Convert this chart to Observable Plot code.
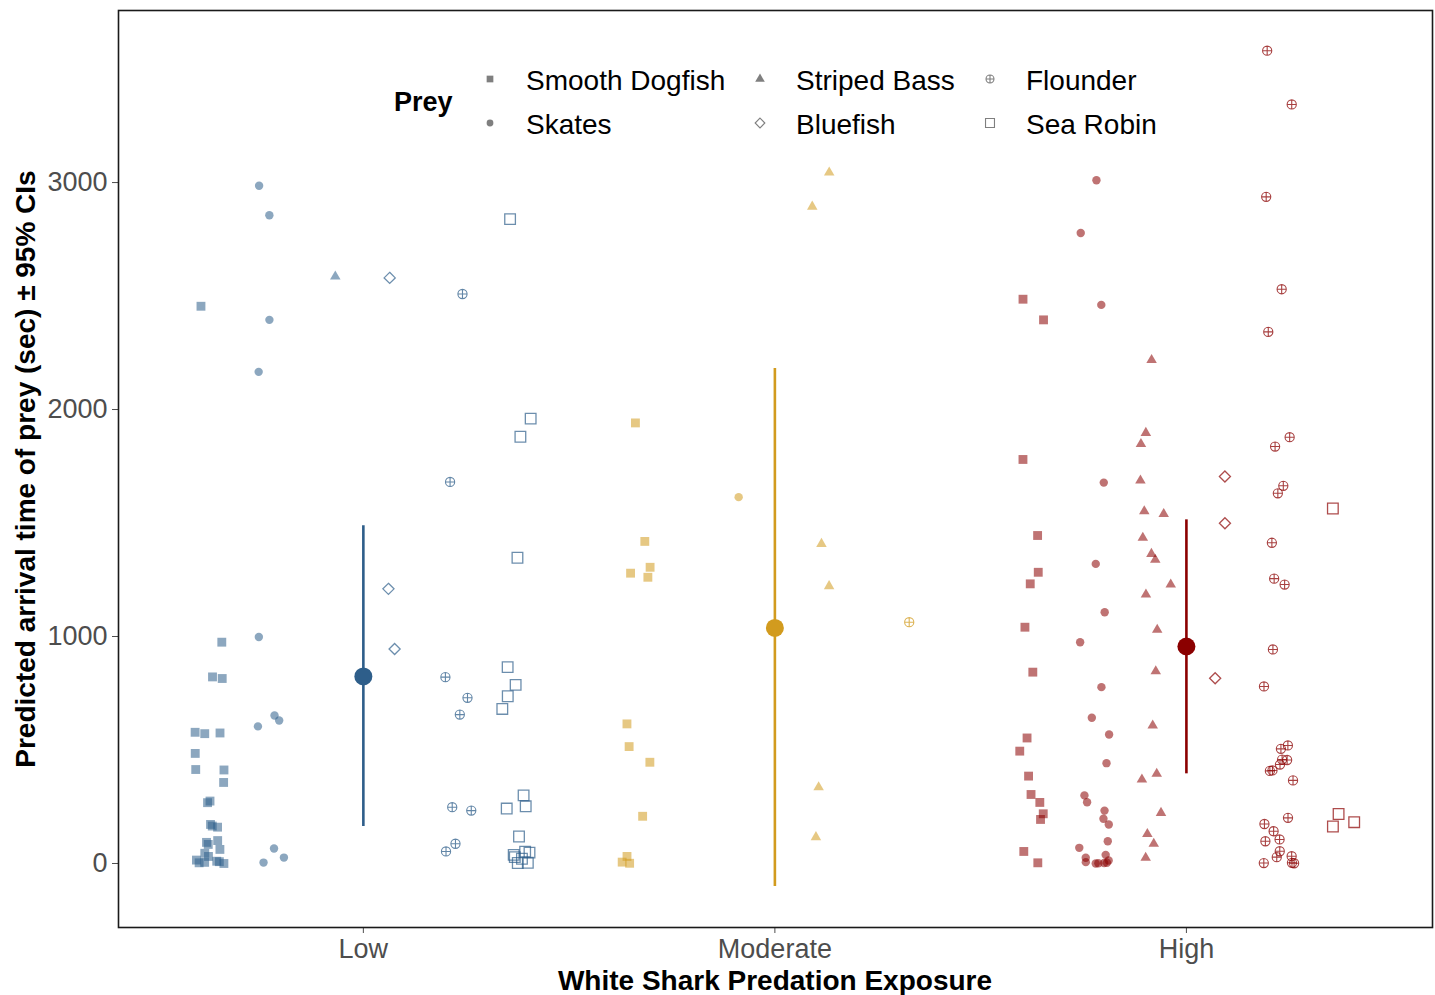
<!DOCTYPE html>
<html>
<head>
<meta charset="utf-8">
<script src="https://cdn.jsdelivr.net/npm/d3@7"></script>
<script src="https://cdn.jsdelivr.net/npm/@observablehq/plot@0.6"></script>
<style>
  body { margin: 0; background: #fff; }
  #chart svg { display: block; }
</style>
</head>
<body>
<div id="chart"></div>
<script>
// ---------- data ----------
const exposures = ["Low", "Moderate", "High"];
const preyTypes = ["Smooth Dogfish", "Skates", "Striped Bass", "Bluefish", "Flounder", "Sea Robin"];

// Low exposure: predicted arrival times (sec)
const lowDogfish  = [2455, 975, 822, 815, 578, 575, 572, 485, 414, 412, 357, 275, 268, 172, 165, 160, 101, 93, 84, 62, 45, 31, 15, 10, 8, 5, 3, 0];
const lowSkates   = [2986, 2856, 2395, 2166, 998, 652, 630, 604, 66, 26, 4];
const lowBass     = [2586];
const lowBluefish = [2580, 1210, 945];
const lowFlounder = [2509, 1681, 821, 730, 656, 248, 233, 87, 53];
const lowRobin    = [2839, 1960, 1880, 1347, 865, 787, 737, 681, 300, 252, 242, 119, 52, 48, 38, 28, 21, 3, 2];

// Moderate exposure
const modDogfish  = [1941, 1419, 1305, 1279, 1261, 615, 515, 446, 208, 31, 6, 1];
const modSkates   = [1614];
const modBass     = [3044, 2894, 1408, 1222, 336, 116];
const modFlounder = [1063];

// High exposure
const highDogfish  = [2486, 2395, 1780, 1445, 1283, 1232, 1041, 843, 553, 495, 385, 304, 269, 219, 194, 53, 3];
const highSkates   = [3010, 2778, 2461, 1678, 1320, 1107, 975, 777, 642, 568, 442, 300, 270, 233, 197, 172, 98, 69, 38, 25, 13, 6, 3, 2, 1, 0];
const highBass     = [2218, 1897, 1848, 1687, 1552, 1540, 1435, 1364, 1338, 1229, 1185, 1030, 847, 608, 395, 370, 223, 130, 87, 25];
const highBluefish = [1705, 1499, 816];
const highFlounder = [3581, 3344, 2937, 2530, 2342, 1878, 1837, 1664, 1631, 1413, 1255, 1229, 943, 780, 520, 505, 458, 456, 436, 410, 408, 366, 201, 174, 142, 106, 98, 54, 32, 28, 3, 2, 1];
const highRobin    = [1564, 218, 182, 163];

// Model predictions (mean ± 95% CI)
const meanTime = [824, 1038, 956];
const ciLower  = [163, -101, 395];
const ciUpper  = [1488, 2181, 1514];

const exposureColors = ["#2E5E8A", "#D29B1E", "#8B0000"];
const yTicks = [0, 1000, 2000, 3000];

// ---------- build tables ----------
const byExposure = [
  [lowDogfish, lowSkates, lowBass, lowBluefish, lowFlounder, lowRobin],
  [modDogfish, modSkates, modBass, [], modFlounder, []],
  [highDogfish, highSkates, highBass, highBluefish, highFlounder, highRobin]
];

const rand = d3.randomLcg(7);
const rows = [];
byExposure.forEach((series, i) => {
  const present = preyTypes.map((p, k) => [p, series[k]]).filter(([, v]) => v.length);
  const n = present.length, w = 0.9 / n;
  present.forEach(([prey, vals], k) => {
    const off = (k - (n - 1) / 2) * w;
    vals.forEach(v => rows.push({
      exposure: exposures[i], prey, time: v,
      xpos: i + off + (rand() - 0.5) * 0.075
    }));
  });
});
const summary = exposures.map((e, i) => ({exposure: e, xi: i, mean: meanTime[i], lo: ciLower[i], hi: ciUpper[i]}));

// custom "circle-plus" symbol (ggplot shape 10)
const circlePlus = {
  draw(ctx, size) {
    const r = Math.sqrt(size / Math.PI);
    ctx.moveTo(r, 0);
    ctx.arc(0, 0, r, 0, 2 * Math.PI);
    ctx.moveTo(-r, 0); ctx.lineTo(r, 0);
    ctx.moveTo(0, -r); ctx.lineTo(0, r);
  }
};

const of = p => rows.filter(d => d.prey === p);
const ptAlpha = 0.55;

const chart = Plot.plot({
  width: 1435,
  height: 995,
  marginLeft: 118,
  marginRight: 3,
  marginTop: 10,
  marginBottom: 68,
  style: {fontFamily: "'Liberation Sans', Arial, sans-serif", fontSize: "27px", color: "#4d4d4d", background: "#fff"},
  x: {domain: [-0.595, 2.598], ticks: [0, 1, 2], tickFormat: i => exposures[i], label: null, tickSize: 6, tickPadding: 5},
  y: {domain: [-282, 3758], ticks: yTicks, tickFormat: d => String(d), label: null, tickSize: 6, tickPadding: 5},
  color: {domain: exposures, range: exposureColors},
  marks: [
    Plot.dot(of("Smooth Dogfish"), {x: "xpos", y: "time", symbol: "square", r: 5, fill: "exposure", fillOpacity: ptAlpha}),
    Plot.dot(of("Skates"), {x: "xpos", y: "time", symbol: "circle", r: 4.2, fill: "exposure", fillOpacity: ptAlpha}),
    Plot.dot(of("Striped Bass"), {x: "xpos", y: "time", symbol: "triangle", r: 3.9, fill: "exposure", fillOpacity: ptAlpha}),
    Plot.dot(of("Bluefish"), {x: "xpos", y: "time", symbol: "diamond2", r: 5, fill: "none", stroke: "exposure", strokeOpacity: 0.7, strokeWidth: 1.3}),
    Plot.dot(of("Flounder"), {x: "xpos", y: "time", symbol: circlePlus, r: 4.6, fill: "none", stroke: "exposure", strokeOpacity: 0.75, strokeWidth: 1.1}),
    Plot.dot(of("Sea Robin"), {x: "xpos", y: "time", symbol: "square", r: 6, fill: "none", stroke: "exposure", strokeOpacity: 0.7, strokeWidth: 1.3}),
    Plot.ruleX(summary, {x: "xi", y1: "lo", y2: "hi", stroke: "exposure", strokeWidth: 2.6}),
    Plot.dot(summary, {x: "xi", y: "mean", r: 9, fill: "exposure", stroke: "none"}),
    Plot.frame({stroke: "#1a1a1a", strokeWidth: 1.6})
  ]
});
document.getElementById("chart").appendChild(chart);

// ---------- titles & legend ----------
const svg = d3.select(chart);
const font = "'Liberation Sans', Arial, sans-serif";

svg.append("text")
  .attr("transform", "translate(25,469) rotate(-90)")
  .attr("text-anchor", "middle").attr("dominant-baseline", "central")
  .attr("font-family", font).attr("font-weight", "bold").attr("font-size", 28).attr("fill", "#000")
  .text("Predicted arrival time of prey (sec) ± 95% CIs");

svg.append("text")
  .attr("x", 775).attr("y", 980)
  .attr("text-anchor", "middle").attr("dominant-baseline", "central")
  .attr("font-family", font).attr("font-weight", "bold").attr("font-size", 28).attr("fill", "#000")
  .text("White Shark Predation Exposure");

const lg = svg.append("g").attr("text-anchor", "start");
lg.append("text").attr("x", 394).attr("y", 102).attr("dominant-baseline", "central")
  .attr("text-anchor", "start")
  .attr("font-family", font).attr("font-weight", "bold").attr("font-size", 27).attr("fill", "#000").text("Prey");

const legendSymbols = [
  {type: d3.symbolSquare, size: 45, filled: true},
  {type: d3.symbolCircle, size: 36, filled: true},
  {type: d3.symbolTriangle, size: 40, filled: true},
  {type: d3.symbolDiamond2, size: 60, filled: false},
  {type: circlePlus, size: 50, filled: false},
  {type: d3.symbolSquare, size: 80, filled: false}
];
const colX = [490, 760, 990];
const rowY = [79, 123];
preyTypes.forEach((p, k) => {
  const c = Math.floor(k / 2), r = k % 2;
  const s = legendSymbols[k];
  lg.append("path")
    .attr("transform", `translate(${colX[c]},${rowY[r]})`)
    .attr("d", d3.symbol(s.type, s.size)())
    .attr("fill", s.filled ? "#7f7f7f" : "none")
    .attr("stroke", s.filled ? "none" : "#7f7f7f")
    .attr("stroke-width", 1.1);
  lg.append("text")
    .attr("x", colX[c] + 36).attr("y", rowY[r] + 1)
    .attr("text-anchor", "start")
    .attr("dominant-baseline", "central")
    .attr("font-family", font).attr("font-size", 28).attr("fill", "#000")
    .text(p);
});
</script>
</body>
</html>
